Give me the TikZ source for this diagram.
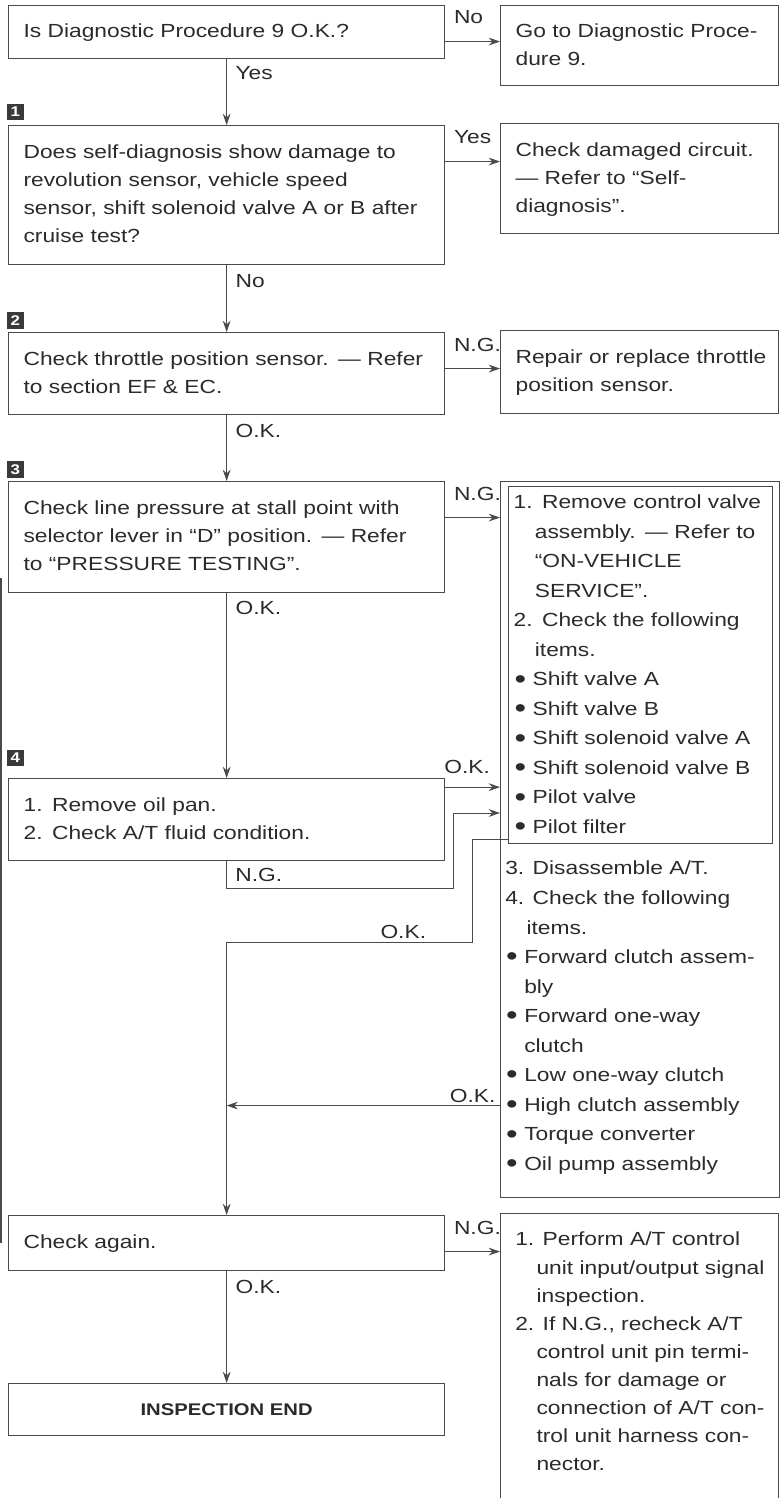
\documentclass[tikz,border=0pt]{standalone}
\usepackage{fontspec}
\setmainfont{Liberation Sans}[FakeStretch=1.2]
\usetikzlibrary{arrows.meta, positioning}
\definecolor{ScanInk}{HTML}{2B2B2B}
\definecolor{ScanLine}{HTML}{4A4A4A}
\definecolor{ScanBadge}{HTML}{3A3A3A}
\newcommand{\bodyfont}{\fontsize{13.5}{20}\selectfont}
\newcommand{\listfont}{\fontsize{13.5}{21}\selectfont}
\newcommand{\finishfont}{\fontsize{12}{14}\selectfont\bfseries}
\newcommand{\badgefont}{\fontsize{10}{10}\selectfont\bfseries}
\newcommand{\rows}[1]{\begin{tabular}{@{}l@{}}#1\end{tabular}}
\newcommand{\hang}{\hspace*{1.12em}}
\newcommand{\bul}{\makebox[1em][l]{\hspace{0.05em}\raisebox{-0.12em}{\scalebox{1.45}{\textbullet}}}}
\newcommand{\bulhang}{\hspace*{1em}}
\tikzset{
    % Box styles
    stepbox/.style={
        rectangle,
        draw=ScanLine,
        line width=0.85pt,
        anchor=north west,
        minimum width=10.9cm,
        inner xsep=0.375cm,
        inner ysep=1pt,
        text width=10.15cm,
        align=left,
        text=ScanInk,
        font=\bodyfont
    },
    sidebox/.style={
        rectangle,
        draw=ScanLine,
        line width=0.85pt,
        anchor=north west,
        minimum width=6.95cm,
        inner xsep=0.375cm,
        inner ysep=1pt,
        text width=6.2cm,
        align=left,
        text=ScanInk,
        font=\bodyfont
    },
    valvebox/.style={
        rectangle,
        draw=ScanLine,
        line width=0.85pt,
        anchor=north west,
        minimum width=6.6cm,
        inner xsep=0.125cm,
        inner ysep=1pt,
        text width=6.35cm,
        align=left,
        text=ScanInk,
        font=\listfont
    },
    framebox/.style={
        rectangle,
        draw=ScanLine,
        line width=0.85pt,
        anchor=north west,
        inner sep=0pt
    },
    endbox/.style={
        rectangle,
        draw=ScanLine,
        line width=0.85pt,
        anchor=north west,
        minimum width=10.9cm,
        text width=10.15cm,
        align=center,
        text=ScanInk,
        font=\finishfont
    },
    listtext/.style={
        anchor=north west,
        inner sep=0pt,
        text=ScanInk,
        font=\listfont
    },
    badge/.style={
        rectangle,
        fill=ScanBadge,
        text=white,
        anchor=south west,
        minimum size=0.42cm,
        inner sep=0pt,
        font=\badgefont
    },
    % Arrow styles
    flowarrow/.style={
        -{Stealth[length=8pt,width=5.5pt]},
        draw=ScanLine,
        line width=0.7pt
    },
    flowline/.style={
        draw=ScanLine,
        line width=0.7pt
    },
    flowlabel/.style={
        inner sep=2pt,
        text=ScanInk,
        font=\bodyfont
    }
}

\begin{document}
\begin{tikzpicture}[x=0.025cm, y=-0.025cm]
    \fill[white] (0,0) rectangle (780,1498);
    \useasboundingbox (0,0) rectangle (780,1498);

    % Left column boxes
    \node[stepbox, minimum height=1.325cm] (diagok) at (8,5) {\rows{Is Diagnostic Procedure 9 O.K.?}};
    \node[stepbox, minimum height=3.475cm] (selfdiag) at (8,125) {\rows{Does self-diagnosis show damage to\\
        revolution sensor, vehicle speed\\
        sensor, shift solenoid valve A or B after\\
        cruise test?}};
    \node[stepbox, minimum height=2.05cm] (tpsens) at (8,332) {\rows{Check throttle position sensor. --- Refer\\
        to section EF \& EC.}};
    \node[stepbox, minimum height=2.775cm] (linep) at (8,481) {\rows{Check line pressure at stall point with\\
        selector lever in ``D'' position. --- Refer\\
        to ``PRESSURE TESTING''.}};
    \node[stepbox, minimum height=2.05cm] (oilpan) at (8,778) {\rows{1. Remove oil pan.\\
        2. Check A/T fluid condition.}};
    \node[stepbox, minimum height=1.375cm] (again) at (8,1215) {\rows{Check again.}};
    \node[endbox, minimum height=1.3cm] (inspend) at (8,1383) {INSPECTION END};

    % Step badges
    \node[badge] (n1) at ([xshift=-1pt,yshift=3pt]selfdiag.north west) {1};
    \node[badge] (n2) at ([xshift=-1pt,yshift=2pt]tpsens.north west) {2};
    \node[badge] (n3) at ([xshift=-1pt,yshift=2pt]linep.north west) {3};
    \node[badge] (n4) at ([xshift=-1pt,yshift=8pt]oilpan.north west) {4};

    % Right column boxes
    \node[sidebox, minimum height=2.0cm] (goproc) at (500,5) {\rows{Go to Diagnostic Proce-\\
        dure 9.}};
    \node[sidebox, minimum height=2.75cm] (chkcirc) at (500,123) {\rows{Check damaged circuit.\\
        --- Refer to ``Self-\\
        diagnosis''.}};
    \node[sidebox, minimum height=2.075cm] (reptps) at (500,330) {\rows{Repair or replace throttle\\
        position sensor.}};
    \node[framebox, minimum width=6.975cm, minimum height=17.9cm] (chkbig) at (500,481) {};
    \node[valvebox, minimum height=8.8cm] (chkvalve) at (508,486) {\rows{1. Remove control valve\\
        \hang assembly. --- Refer to\\
        \hang ``ON-VEHICLE\\
        \hang SERVICE''.\\
        2. Check the following\\
        \hang items.\\
        \bul Shift valve A\\
        \bul Shift valve B\\
        \bul Shift solenoid valve A\\
        \bul Shift solenoid valve B\\
        \bul Pilot valve\\
        \bul Pilot filter}};
    \node[listtext] (chkat) at (505,854) {\rows{3. Disassemble A/T.\\
        4. Check the following\\
        \hang items.\\
        \bul Forward clutch assem-\\
        \bulhang bly\\
        \bul Forward one-way\\
        \bulhang clutch\\
        \bul Low one-way clutch\\
        \bul High clutch assembly\\
        \bul Torque converter\\
        \bul Oil pump assembly}};
    \node[framebox, minimum width=6.95cm, minimum height=8cm] (performbox) at (500,1213) {};
    \node[listtext, font=\bodyfont] (performtext) at (515,1226) {\rows{1. Perform A/T control\\
        \hang unit input/output signal\\
        \hang inspection.\\
        2. If N.G., recheck A/T\\
        \hang control unit pin termi-\\
        \hang nals for damage or\\
        \hang connection of A/T con-\\
        \hang trol unit harness con-\\
        \hang nector.}};

    % Main flow
    \draw[flowarrow] (diagok.south) -- (selfdiag.north)
        node[flowlabel, pos=0, anchor=north west, xshift=4pt, yshift=-3pt] (lyes0) {Yes};
    \draw[flowarrow] (selfdiag.south) -- (tpsens.north)
        node[flowlabel, pos=0, anchor=north west, xshift=4pt, yshift=-4pt] (lno1) {No};
    \draw[flowarrow] (tpsens.south) -- (linep.north)
        node[flowlabel, pos=0, anchor=north west, xshift=4pt, yshift=-4pt] (lok2) {O.K.};
    \draw[flowarrow] (linep.south) -- (oilpan.north)
        node[flowlabel, pos=0, anchor=north west, xshift=4pt, yshift=-3pt] (lok3) {O.K.};
    \draw[flowarrow] (again.south) -- (inspend.north)
        node[flowlabel, pos=0, anchor=north west, xshift=4pt, yshift=-4pt] (lok7) {O.K.};

    % Side branches
    \draw[flowarrow] ([yshift=-26pt]diagok.north east) coordinate (a0) -- (a0 -| goproc.west);
    \node[flowlabel, anchor=north west] (lno0) at ([xshift=4pt,yshift=-2pt]diagok.north east) {No};
    \draw[flowarrow] ([yshift=-26pt]selfdiag.north east) coordinate (a1) -- (a1 -| chkcirc.west);
    \node[flowlabel, anchor=north west] (lyes1) at ([xshift=4pt,yshift=-2pt]selfdiag.north east) {Yes};
    \draw[flowarrow] ([yshift=-26pt]tpsens.north east) coordinate (a2) -- (a2 -| reptps.west);
    \node[flowlabel, anchor=north west] (lng2) at ([xshift=4pt,yshift=-2pt]tpsens.north east) {N.G.};
    \draw[flowarrow] ([yshift=-26pt]linep.north east) coordinate (a3) -- (a3 -| chkbig.west);
    \node[flowlabel, anchor=north west] (lng3) at ([xshift=4pt,yshift=-2pt]linep.north east) {N.G.};
    \draw[flowarrow] ([yshift=-26pt]again.north east) coordinate (a7) -- (a7 -| performbox.west);
    \node[flowlabel, anchor=north west] (lng7) at ([xshift=4pt,yshift=-2pt]again.north east) {N.G.};

    % Step 4 branches
    \draw[flowarrow] ([yshift=-6.5pt]oilpan.north east) coordinate (a4) -- (a4 -| chkbig.west)
        node[flowlabel, pos=0.4, above=7pt] (lok4) {O.K.};
    \coordinate (ngturn) at (453,888);
    \coordinate (ngrise) at (453,813);
    \draw[flowarrow] (oilpan.south) |- (ngturn) -- (ngrise) -- (ngrise -| chkbig.west);
    \node[flowlabel, anchor=north west] (lng4) at ([xshift=4pt,yshift=-3pt]oilpan.south) {N.G.};
    \coordinate (okbend) at (472,942);
    \draw[flowarrow] ([yshift=3.5pt]chkvalve.south west) -| (okbend) -| (again.north)
        node[flowlabel, pos=0.14, above] (lok5) {O.K.};
    \draw[flowarrow] ([yshift=66pt]chkbig.south west) coordinate (a6) -- (a6 -| again.north)
        node[flowlabel, pos=0.1, above] (lok6) {O.K.};

    % Page edge
    \draw[flowline, line width=1pt] (1,578) -- (1,1243);
\end{tikzpicture}
\end{document}
